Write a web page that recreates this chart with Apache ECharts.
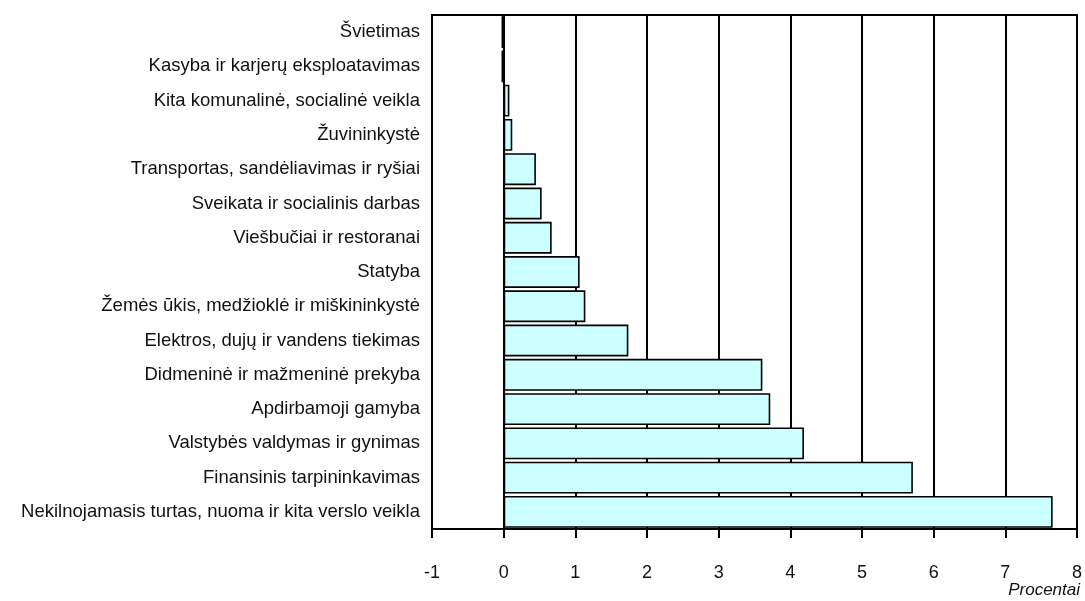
<!DOCTYPE html>
<html>
<head>
<meta charset="utf-8">
<script src="https://cdn.jsdelivr.net/npm/echarts@6/dist/echarts.min.js"></script>
<style>
  html, body { margin: 0; padding: 0; background: #fff; }
  #chart { width: 1085px; height: 601px; }
</style>
</head>
<body>
<div id="chart"></div>
<script>
// top to bottom as in the picture
const categories = [
  "Švietimas",
  "Kasyba ir karjerų eksploatavimas",
  "Kita komunalinė, socialinė veikla",
  "Žuvininkystė",
  "Transportas, sandėliavimas ir ryšiai",
  "Sveikata ir socialinis darbas",
  "Viešbučiai ir restoranai",
  "Statyba",
  "Žemės ūkis, medžioklė ir miškininkystė",
  "Elektros, dujų ir vandens tiekimas",
  "Didmeninė ir mažmeninė prekyba",
  "Apdirbamoji gamyba",
  "Valstybės valdymas ir gynimas",
  "Finansinis tarpininkavimas",
  "Nekilnojamasis turtas, nuoma ir kita verslo veikla"
];
const values = [-0.03, -0.03, 0.08, 0.12, 0.45, 0.53, 0.67, 1.06, 1.14, 1.74, 3.61, 3.72, 4.19, 5.71, 7.66];
const xMin = -1, xMax = 8, xStep = 1;
const unitLabel = "Procentai";

const font = "'Liberation Sans', Arial, sans-serif";
const chart = echarts.init(document.getElementById("chart"));

chart.setOption({
  animation: false,
  grid: { left: 432, right: 8, top: 15, bottom: 72, containLabel: false, outerBoundsMode: "none" },
  xAxis: {
    type: "value",
    min: xMin, max: xMax, interval: xStep,
    axisLine: { show: true, lineStyle: { color: "#000", width: 2 } },
    axisTick: { show: true, length: 9, lineStyle: { color: "#000", width: 2 } },
    axisLabel: { fontFamily: font, fontSize: 18, color: "#111", margin: 35 },
    splitLine: { show: true, lineStyle: { color: "#000", width: 2 } }
  },
  yAxis: {
    type: "category",
    data: categories,
    inverse: true,
    axisLine: { show: false },
    axisTick: { show: false },
    axisLabel: { fontFamily: font, fontSize: 18.5, color: "#111", margin: 12 }
  },
  series: [{
    type: "bar",
    data: values,
    barCategoryGap: "7%",
    itemStyle: { color: "#CCFFFF", borderColor: "#000", borderWidth: 1.6 }
  }],
  graphic: [{
    type: "rect",
    shape: { x: 432, y: 15, width: 645, height: 514 },
    style: { fill: null, stroke: "#000", lineWidth: 2 },
    silent: true, z: 100
  }, {
    type: "text",
    right: 5, top: 582,
    style: {
      text: unitLabel, fontFamily: font, fontStyle: "italic", fontSize: 17, fill: "#111"
    },
    silent: true
  }]
});
</script>
</body>
</html>
